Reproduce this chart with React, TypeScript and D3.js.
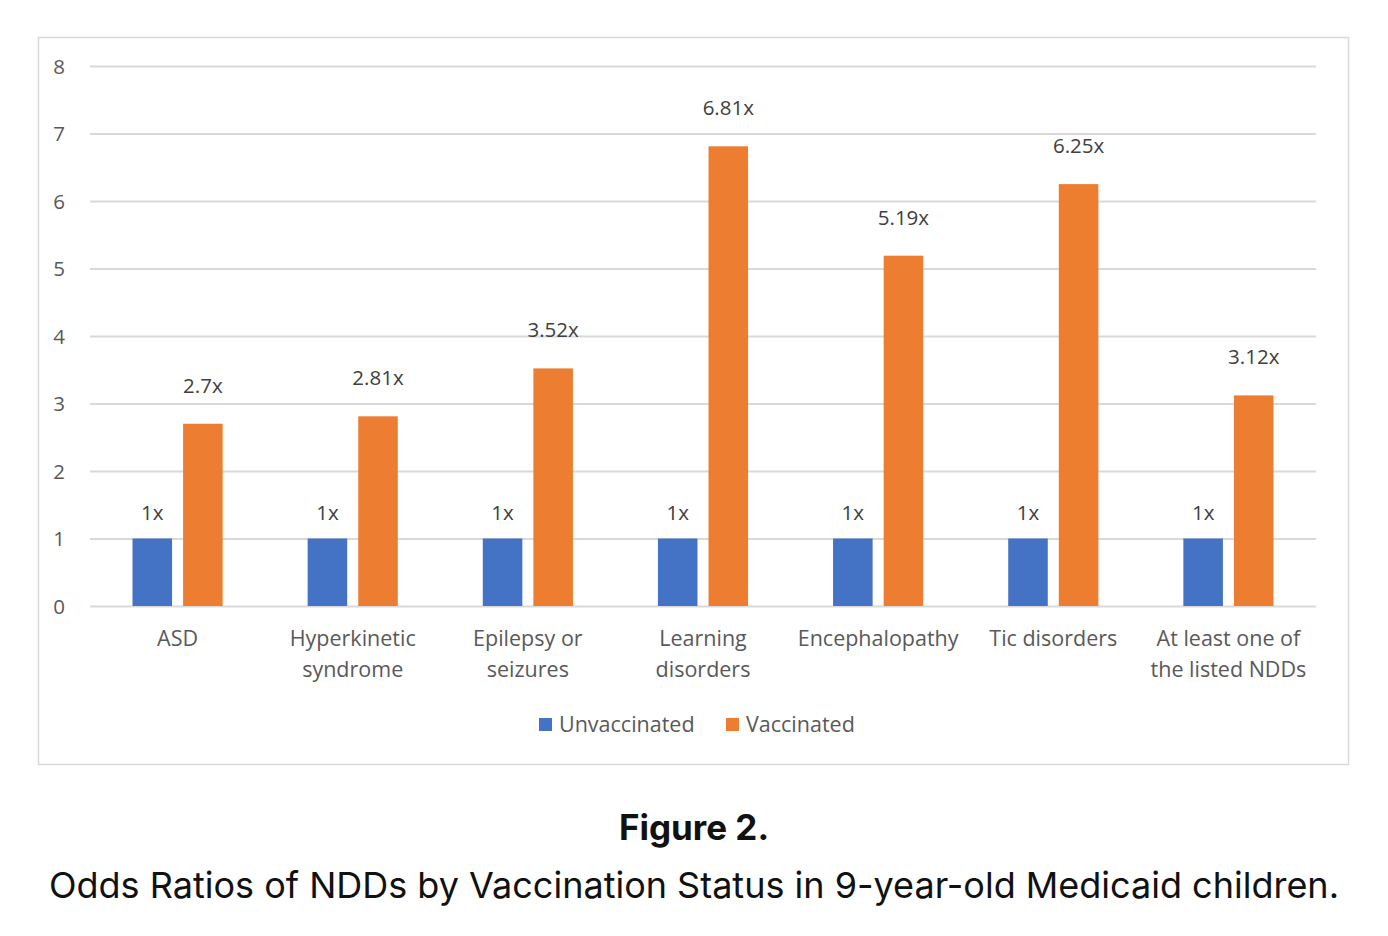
import * as d3 from "d3";
import { useEffect, useRef } from "react";

const categories = [
  ["ASD"],
  ["Hyperkinetic", "syndrome"],
  ["Epilepsy or", "seizures"],
  ["Learning", "disorders"],
  ["Encephalopathy"],
  ["Tic disorders"],
  ["At least one of", "the listed NDDs"],
];
const seriesNames = ["Unvaccinated", "Vaccinated"];
const unvaccinated = [1, 1, 1, 1, 1, 1, 1];
const vaccinated = [2.7, 2.81, 3.52, 6.81, 5.19, 6.25, 3.12];
const yTicks = [0, 1, 2, 3, 4, 5, 6, 7, 8];

const colors = ["#4472C4", "#ED7D31"];
const chartFont = "'Open Sans', sans-serif";
const fontSize = "21.5px";

const App = () => {
  const ref = useRef<SVGSVGElement>(null);

  useEffect(() => {
    const width = 1388;
    const height = 936;
    const svg = d3.select(ref.current);
    svg.selectAll("*").remove();

    const marginLeft = 90;
    const marginRight = 1316;
    const yTop = 66;
    const yBottom = 606;

    // frame
    svg.append("rect")
      .attr("x", 38.5)
      .attr("y", 37.5)
      .attr("width", 1310)
      .attr("height", 727)
      .attr("fill", "white")
      .attr("stroke", "#d9d9d9")
      .attr("stroke-width", 1.5);

    const keys = categories.map((c) => c.join(" "));
    const x0 = d3.scaleBand().domain(keys).range([marginLeft, marginRight]).padding(0);
    const x1 = d3.scaleBand()
      .domain(seriesNames)
      .range([0, x0.bandwidth()])
      .paddingInner(0.218)
      .paddingOuter(0.84);
    const y = d3.scaleLinear().domain([0, 8]).range([yBottom, yTop]);

    // gridlines + y labels
    const yAxis = svg.append("g")
      .attr("transform", `translate(${marginLeft},0)`)
      .call(d3.axisLeft(y).tickValues(yTicks).tickSize(-(marginRight - marginLeft)).tickPadding(25))
      .call((g) => g.select(".domain").remove());
    yAxis.selectAll(".tick line").attr("stroke", "#d9d9d9").attr("stroke-width", 2);
    yAxis.selectAll(".tick text")
      .attr("fill", "#595959")
      .attr("dy", "0.36em")
      .style("font-family", chartFont)
      .style("font-size", "20.5px");

    const rows = keys.map((k, i) => ({ key: k, values: [unvaccinated[i], vaccinated[i]] }));
    const groups = svg.append("g")
      .selectAll("g")
      .data(rows)
      .join("g")
      .attr("transform", (d) => `translate(${x0(d.key)},0)`);

    const offsets = [19, 31];
    groups.selectAll("rect")
      .data((d) => d.values.map((v, j) => ({ name: seriesNames[j], v, j })))
      .join("rect")
      .attr("x", (d) => x1(d.name) ?? 0)
      .attr("y", (d) => y(d.v))
      .attr("width", x1.bandwidth())
      .attr("height", (d) => y(0) - y(d.v))
      .attr("fill", (d) => colors[d.j]);

    groups.selectAll("text.lbl")
      .data((d) => d.values.map((v, j) => ({ name: seriesNames[j], v, j })))
      .join("text")
      .attr("class", "lbl")
      .attr("x", (d) => (x1(d.name) ?? 0) + x1.bandwidth() / 2)
      .attr("y", (d) => y(d.v) - offsets[d.j])
      .attr("text-anchor", "middle")
      .attr("fill", "#404040")
      .style("font-family", chartFont)
      .style("font-size", "20.5px")
      .text((d) => `${d.v}x`);

    // x category labels
    const xLabels = svg.append("g")
      .selectAll("text")
      .data(categories)
      .join("text")
      .attr("x", (_, i) => (x0(keys[i]) ?? 0) + x0.bandwidth() / 2)
      .attr("y", 646)
      .attr("text-anchor", "middle")
      .attr("fill", "#595959")
      .style("font-family", chartFont)
      .style("font-size", fontSize);
    xLabels.selectAll("tspan")
      .data((d) => d)
      .join("tspan")
      .attr("x", function () {
        return (this.parentNode as SVGTextElement).getAttribute("x");
      })
      .attr("dy", (_, i) => (i === 0 ? 0 : 31))
      .text((d) => d);

    // legend
    const legendItems = [
      { name: seriesNames[0], sx: 539, tx: 559 },
      { name: seriesNames[1], sx: 726, tx: 746 },
    ];
    const legend = svg.append("g");
    legendItems.forEach((it, i) => {
      legend.append("rect")
        .attr("x", it.sx)
        .attr("y", 718)
        .attr("width", 13)
        .attr("height", 13)
        .attr("fill", colors[i]);
      legend.append("text")
        .attr("x", it.tx)
        .attr("y", 732)
        .attr("fill", "#595959")
        .style("font-family", chartFont)
        .style("font-size", fontSize)
        .text(it.name);
    });

    // caption
    svg.append("text")
      .attr("x", width / 2)
      .attr("y", 840)
      .attr("text-anchor", "middle")
      .attr("fill", "#111")
      .style("font-family", "Inter, sans-serif")
      .style("font-size", "35px")
      .style("font-weight", "700")
      .text("Figure 2.");
    svg.append("text")
      .attr("x", width / 2)
      .attr("y", 898)
      .attr("text-anchor", "middle")
      .attr("fill", "#111")
      .style("font-family", "Inter, sans-serif")
      .style("font-size", "36px")
      .text("Odds Ratios of NDDs by Vaccination Status in 9-year-old Medicaid children.");

    svg.attr("height", height);
  }, []);

  return (
    <svg
      ref={ref}
      width={1388}
      height={936}
      style={{ position: "absolute", left: 0, top: 0, background: "white" }}
    />
  );
};

export default App;
